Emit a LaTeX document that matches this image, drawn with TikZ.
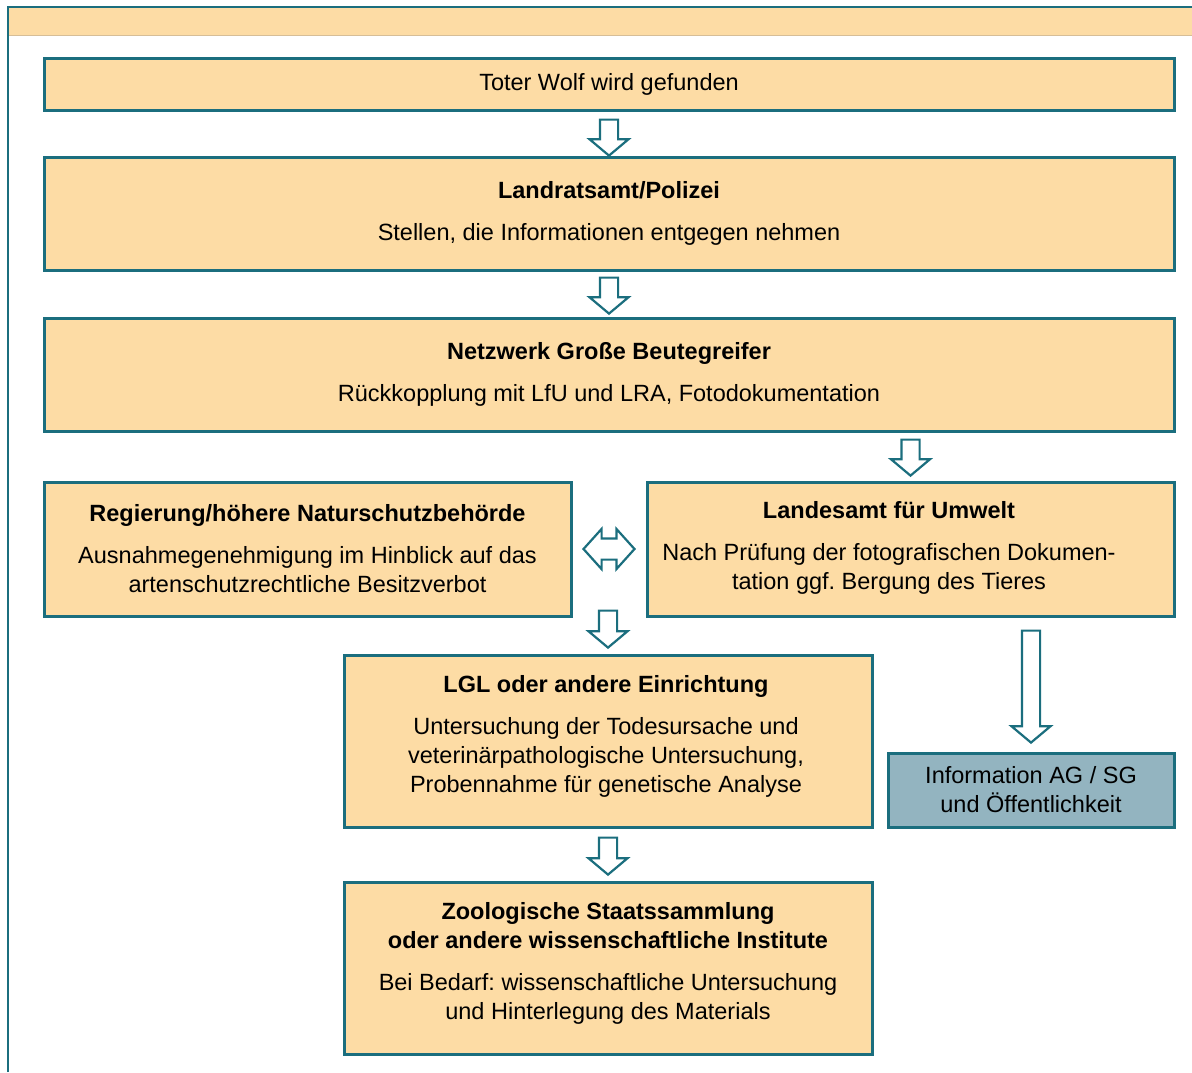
\documentclass[tikz,border=0pt]{standalone}
\usepackage{fontspec}
\setmainfont{Liberation Sans}
\usetikzlibrary{shapes.arrows,calc}
\definecolor{wolfsand}{HTML}{FDDCA5}
\definecolor{wolfteal}{HTML}{1B6E7E}
\definecolor{wolfblue}{HTML}{93B4C0}
\definecolor{wolftan}{HTML}{D6BE98}
\frenchspacing
\begin{document}
\begin{tikzpicture}
	[	x=1pt,y=-1pt,
	box/.style={rectangle,draw=wolfteal,line width=3pt,fill=wolfsand,inner sep=0pt,align=center,font=\fontsize{23.5}{29}\selectfont},
	infobox/.style={box,fill=wolfblue},
	plain/.style={draw=none,fill=none,align=center,font=\fontsize{23.5}{29}\selectfont},
	down/.style={single arrow,draw=wolfteal,line width=2.2pt,fill=white,shape border rotate=270,inner sep=8pt,minimum width=37pt,single arrow head extend=10.5pt,single arrow tip angle=100,anchor=tail},
	both/.style={double arrow,draw=wolfteal,line width=2.2pt,fill=white,inner sep=9.5pt,minimum width=38pt,double arrow head extend=9.5pt,double arrow tip angle=96}
	]
	\useasboundingbox (0,0) rectangle (1192,1072);
	% frame and top band
	\fill[wolfsand] (9,8) rectangle (1192,35);
	\draw[wolftan,line width=1pt] (9,35) -- (1192,35);
	\draw[wolfteal,line width=2pt] (8,1072) -- (8,7) -- (1192,7);

	\node[box,minimum width=1130pt,minimum height=52pt] (wolf) at (609,84){Toter Wolf wird gefunden};
	\node[box,minimum width=1130pt,minimum height=113pt] (polizei) at (609,213.5){\textbf{Landratsamt/Polizei}\\[13pt]Stellen, die Informationen entgegen nehmen};
	\node[box,minimum width=1130pt,minimum height=113pt] (netzwerk) at (609,374.5){\textbf{Netzwerk Große Beutegreifer}\\[13pt]Rückkopplung mit LfU und LRA, Fotodokumentation};
	\node[box,minimum width=527pt,minimum height=134pt] (regierung) at (307.5,549){\textbf{Regierung/höhere Naturschutzbehörde}\\[13pt]Ausnahmegenehmigung im Hinblick auf das\\artenschutzrechtliche Besitzverbot};
	\node[box,minimum width=527pt,minimum height=134pt] (lfu) at (910.5,549){};
	\node[plain] (lfutext) at (889,548){\textbf{Landesamt für Umwelt}\\[13pt]Nach Prüfung der fotografischen Dokumen-\\tation ggf. Bergung des Tieres};
	\node[box,minimum width=528pt,minimum height=172pt] (lgl) at (608,741){};
	\node[plain] (lgltext) at (606,736){\textbf{LGL oder andere Einrichtung}\\[13pt]Untersuchung der Todesursache und\\veterinärpathologische Untersuchung,\\Probennahme für genetische Analyse};
	\node[infobox,minimum width=286pt,minimum height=74pt] (info) at (1031,790){Information AG / SG\\und Öffentlichkeit};
	\node[box,minimum width=528pt,minimum height=172pt] (zsm) at (608,968){};
	\node[plain] (zsmtext) at (608,963){\textbf{Zoologische Staatssammlung}\\\textbf{oder andere wissenschaftliche Institute}\\[13pt]Bei Bedarf: wissenschaftliche Untersuchung\\und Hinterlegung des Materials};

	% block arrows
	\node[down,minimum height=36pt] (arr1) at ($(wolf.south)+(0,7)$){};
	\node[down,minimum height=36pt] (arr2) at ($(polizei.south)+(0,5)$){};
	\node[down,minimum height=36pt] (arr3) at ($(netzwerk.south-|lfu.north)+(0,6)$){};
	\node[down,minimum height=37pt] (arr4) at ($(regierung.south-|lgl.north)+(0,-8)$){};
	\node[down,minimum height=37pt] (arr5) at ($(lgl.south)+(0,8)$){};
	\node[down,minimum height=112pt] (arr6) at ($(lfu.south-|info.north)+(0,12)$){};
	\node[both,minimum height=51pt] (arr7) at ($(regierung.east)!0.5!(lfu.west)$){};
\end{tikzpicture}
\end{document}
